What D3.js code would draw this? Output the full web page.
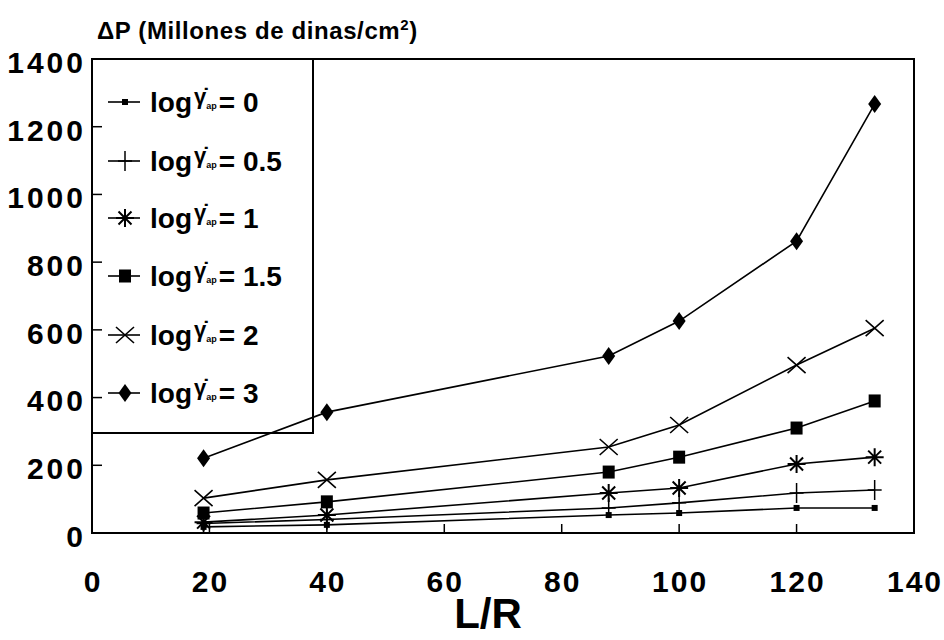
<!DOCTYPE html>
<html>
<head>
<meta charset="utf-8">
<script src="https://cdn.jsdelivr.net/npm/d3@7"></script>
<style>
  body { margin: 0; background: #fff; }
  text { font-family: "Liberation Sans", Arial, sans-serif; font-weight: bold; fill: #000; }
</style>
</head>
<body>
<div id="chart-area"></div>
<script>
// L/R values and pressure drop series (millones de dinas/cm2)
let lr = [19, 40, 88, 100, 120, 133.3];
let s0 = [18, 24, 53, 59, 74, 74];
let s05 = [28, 40, 74, 89, 118, 127];
let s1 = [32, 53, 118, 133, 204, 224];
let s15 = [59, 92, 180, 224, 310, 390];
let s2 = [103, 157, 254, 319, 496, 605];
let s3 = [221, 357, 523, 626, 862, 1267];
let seriesNames = ["0", "0.5", "1", "1.5", "2", "3"];
let markerTypes = ["dot", "plus", "star", "square", "x", "diamond"];
let xTicks = [0, 20, 40, 60, 80, 100, 120, 140];
let yTicks = [0, 200, 400, 600, 800, 1000, 1200, 1400];

let allSeries = [s0, s05, s1, s15, s2, s3];

let svg = d3.select("#chart-area").append("svg")
  .attr("width", 944)
  .attr("height", 640);

let x = d3.scaleLinear().domain([0, 140]).range([92, 914]);
let y = d3.scaleLinear().domain([0, 1400]).range([533, 59]);

// frame
svg.append("rect")
  .attr("x", x(0)).attr("y", y(1400))
  .attr("width", x(140) - x(0)).attr("height", y(0) - y(1400))
  .attr("fill", "none").attr("stroke", "#000").attr("stroke-width", 2);

// inner ticks
svg.append("g").selectAll("line").data(yTicks.slice(1, -1)).enter().append("line")
  .attr("x1", x(0)).attr("x2", x(0) + 10)
  .attr("y1", d => y(d)).attr("y2", d => y(d))
  .attr("stroke", "#000").attr("stroke-width", 1.5);
svg.append("g").selectAll("line").data(xTicks.slice(1, -1)).enter().append("line")
  .attr("x1", d => x(d)).attr("x2", d => x(d))
  .attr("y1", y(0)).attr("y2", y(0) - 9)
  .attr("stroke", "#000").attr("stroke-width", 1.5);

// tick labels
svg.append("g").selectAll("text").data(yTicks).enter().append("text")
  .attr("x", 86).attr("y", d => y(d) + 3)
  .attr("dy", "0.36em")
  .attr("text-anchor", "end")
  .attr("font-size", 30).attr("letter-spacing", 3)
  .text(d => d);
svg.append("g").selectAll("text").data(xTicks).enter().append("text")
  .attr("x", d => x(d) + 1).attr("y", 592)
  .attr("text-anchor", "middle")
  .attr("font-size", 30).attr("letter-spacing", 2)
  .text(d => d);

// axis titles
let title = svg.append("text").attr("x", 97).attr("y", 39)
  .attr("font-size", 24).attr("letter-spacing", 0.6);
title.append("tspan").text("ΔP (Millones de dinas/cm");
title.append("tspan").attr("font-size", 15).attr("dy", -9).text("2");
title.append("tspan").attr("dy", 9).text(")");

svg.append("text").attr("x", 488).attr("y", 628)
  .attr("text-anchor", "middle").attr("font-size", 42)
  .text("L/R");

// markers
function marker(g, type, cx, cy) {
  let m = g.append("g").attr("transform", "translate(" + cx + "," + cy + ")");
  if (type == "dot") {
    m.append("rect").attr("x", -3).attr("y", -3).attr("width", 6).attr("height", 6).attr("fill", "#000");
  } else if (type == "plus") {
    m.append("path").attr("d", "M-7,0H7M0,-10V10").attr("stroke", "#000").attr("stroke-width", 1.5);
  } else if (type == "star") {
    m.append("path").attr("d", "M-9,0H9M0,-9V9M-6.5,-6.5L6.5,6.5M-6.5,6.5L6.5,-6.5")
      .attr("stroke", "#000").attr("stroke-width", 2);
  } else if (type == "square") {
    m.append("rect").attr("x", -6).attr("y", -6.5).attr("width", 12).attr("height", 13).attr("fill", "#000");
  } else if (type == "x") {
    m.append("path").attr("d", "M-9,-8L9,8M-9,8L9,-8").attr("stroke", "#000").attr("stroke-width", 1.6);
  } else if (type == "diamond") {
    m.append("path").attr("d", "M0,-9L6.5,0L0,9L-6.5,0Z").attr("fill", "#000");
  }
}

let line = d3.line()
  .x((d, i) => x(lr[i]))
  .y(d => y(d));

allSeries.forEach((s, k) => {
  let g = svg.append("g");
  g.append("path").attr("d", line(s))
    .attr("fill", "none").attr("stroke", "#000").attr("stroke-width", 1.6);
  s.forEach((v, i) => marker(g, markerTypes[k], x(lr[i]), y(v)));
});

// legend
svg.append("rect")
  .attr("x", x(0)).attr("y", y(1400))
  .attr("width", 313 - x(0)).attr("height", 433 - y(1400))
  .attr("fill", "none").attr("stroke", "#000").attr("stroke-width", 2);

let legendY = [102, 161, 218, 276, 335, 393];
seriesNames.forEach((n, k) => {
  let g = svg.append("g");
  g.append("line").attr("x1", 108).attr("x2", 140)
    .attr("y1", legendY[k]).attr("y2", legendY[k])
    .attr("stroke", "#000").attr("stroke-width", 1.6);
  marker(g, markerTypes[k], 125, legendY[k]);
  let t = g.append("text").attr("x", 150).attr("y", legendY[k] + 10).attr("font-size", 28);
  t.append("tspan").text("log");
  t.append("tspan").attr("dx", 2).attr("dy", -8).attr("font-size", 22).text("γ̇");
  t.append("tspan").attr("dy", 5).attr("font-size", 9).text("ap");
  t.append("tspan").attr("dy", 3).attr("dx", 2).text("= " + n);
});
</script>
</body>
</html>
